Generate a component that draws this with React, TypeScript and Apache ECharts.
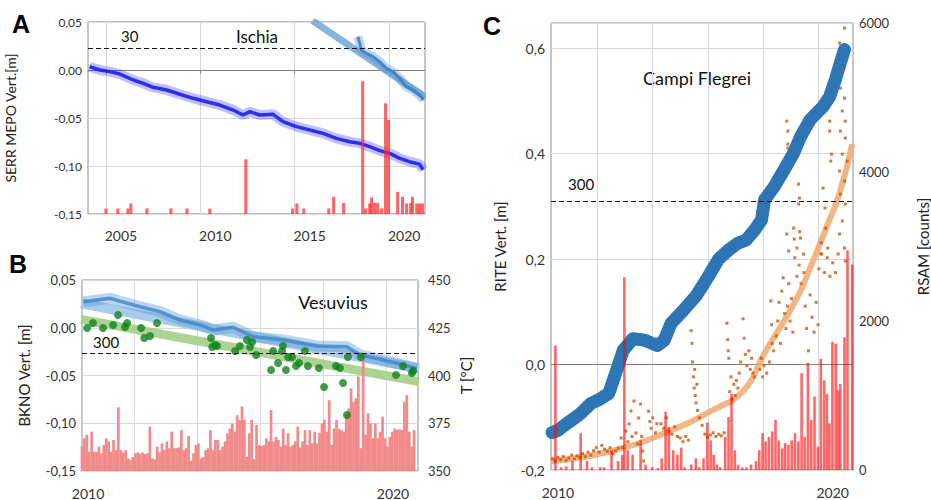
import React, { useEffect, useRef } from 'react';
import * as echarts from 'echarts';

const FONT = 'Lato, "Open Sans", sans-serif';

// ---------- Panel A : Ischia ----------
const aTickYears = [2005, 2010, 2015, 2020];
const aSerr: [number, number][] = [
  [2004.13, 0.0035], [2004.68, 0.0], [2005.21, -0.0017], [2005.74, -0.0042], [2006.45, -0.0104],
  [2006.98, -0.0139], [2007.5, -0.018], [2008.21, -0.0208], [2008.92, -0.0253], [2009.62, -0.0295],
  [2010.33, -0.033], [2011.03, -0.0365], [2011.74, -0.0417], [2012.26, -0.0469], [2012.62, -0.0434],
  [2013.15, -0.0469], [2013.85, -0.0462], [2014.38, -0.0538], [2015.09, -0.059], [2015.8, -0.0625],
  [2016.5, -0.066], [2017.21, -0.0712], [2017.91, -0.0747], [2018.44, -0.0764], [2018.97, -0.0799],
  [2019.5, -0.084], [2020.03, -0.0868], [2020.56, -0.092], [2021.08, -0.0955], [2021.61, -0.098],
  [2021.8, -0.104],
];
const aMepo: [number, number][] = [
  [2018.35, 0.0347], [2018.53, 0.0208], [2018.79, 0.0174], [2019.15, 0.0139], [2019.5, 0.0087],
  [2019.85, 0.0017], [2020.2, -0.0017], [2020.56, -0.0087], [2020.91, -0.0174], [2021.26, -0.0208],
  [2021.61, -0.026], [2021.83, -0.0312],
];
const aMepoTrend: [number, number][] = [[2015.94, 0.0514], [2021.88, -0.0278]];
const aEvents: [number, number][] = [
  [2005.0, 1], [2005.63, 1], [2006.16, 1], [2006.32, 1.9], [2007.17, 1], [2008.44, 1], [2009.29, 1],
  [2010.5, 1], [2012.41, 9.9], [2014.89, 1], [2015.11, 1.9], [2015.48, 1], [2016.8, 1], [2017.06, 3.1],
  [2017.59, 2], [2018.6, 24], [2018.76, 1], [2018.97, 1.9], [2019.07, 3], [2019.23, 2], [2019.39, 2],
  [2019.6, 1], [2019.81, 20], [2019.97, 17], [2020.45, 4], [2020.71, 3.1], [2020.93, 1.9],
  [2021.14, 2], [2021.24, 3.1], [2021.46, 1.9], [2021.61, 1.9], [2021.77, 1.9],
];
const aThreshold = 30;

// ---------- Panel B : Vesuvius ----------
const bLabelYears = [2010, 2020];
const bGridYears = [2011.5, 2013.57, 2015.64, 2017.7, 2019.77];
const bBkno: [number, number][] = [
  [2009.85, 0.0273], [2010.72, 0.0308], [2011.49, 0.0238], [2012.36, 0.0168], [2013.02, 0.0081],
  [2013.45, 0.0047], [2013.67, 0.0029], [2014.11, -0.0024], [2014.76, 0.0005], [2015.42, -0.0094],
  [2016.4, -0.0128], [2017.5, -0.0191], [2018.48, -0.0198], [2018.92, -0.0285], [2019.68, -0.0338],
  [2020.23, -0.038], [2020.78, -0.0425],
];
const bBknoTrend: [number, number][] = [[2009.77, 0.0256], [2020.85, -0.0425]];
const bTempTrend: [number, number][] = [[2009.77, 429.4], [2020.85, 396.8]];
const bTemp: [number, number][] = [
  [2009.97, 424.9], [2010.16, 427.5], [2010.49, 424.9], [2010.82, 426.4], [2010.98, 431.7],
  [2011.21, 425.4], [2011.28, 427.5], [2011.74, 424.9], [2011.84, 419.6], [2012.03, 420.7],
  [2012.26, 427.5], [2014.03, 419.6], [2014.07, 414.9], [2014.16, 416.0], [2014.23, 415.4],
  [2014.82, 412.8], [2014.98, 415.4], [2015.21, 418.6], [2015.31, 414.9], [2015.38, 417.5],
  [2015.51, 410.7], [2016.0, 402.9], [2016.07, 412.8], [2016.23, 406.5], [2016.36, 412.8],
  [2016.39, 415.4], [2016.49, 402.9], [2016.56, 409.7], [2016.69, 409.7], [2016.82, 405.0],
  [2016.92, 406.5], [2017.11, 412.8], [2017.21, 405.0], [2017.57, 403.9], [2017.74, 394.0],
  [2018.13, 405.0], [2018.26, 403.9], [2018.36, 396.1], [2018.49, 379.3], [2018.52, 409.7],
  [2018.95, 409.7], [2020.1, 400.3], [2020.33, 405.0], [2020.62, 401.3], [2020.66, 402.4],
];
const bEventStart = 2009.8;
const bEventStep = 0.0795;
const bEvents = [
  62, 83, 92, 49, 100, 49, 49, 62, 45, 66,
  83, 75, 49, 79, 53, 162, 53, 47, 53, 32,
  28, 35, 45, 47, 43, 47, 43, 45, 113, 32,
  30, 62, 47, 70, 53, 75, 58, 100, 58, 58,
  60, 104, 53, 58, 89, 26, 45, 66, 70, 32,
  35, 53, 58, 104, 53, 79, 79, 53, 62, 75,
  96, 108, 121, 100, 142, 130, 164, 130, 36, 96,
  130, 30, 117, 66, 64, 66, 83, 75, 155, 75,
  87, 79, 62, 108, 66, 96, 62, 66, 75, 113,
  60, 75, 104, 66, 104, 70, 100, 70, 97, 121,
  130, 100, 180, 66, 108, 130, 108, 104, 100, 142,
  159, 210, 176, 185, 240, 58, 300, 92, 147, 121,
  83, 121, 83, 100, 138, 83, 62, 87, 100, 108,
  104, 106, 104, 176, 193, 100, 62, 104,
];
const bThreshold = 300;

// ---------- Panel C : Campi Flegrei ----------
const cLabelYears = [2010, 2020];
const cGridYears = [2011.42, 2013.44, 2015.46, 2017.48, 2019.47];
const cRite: [number, number][] = [
  [2009.79, -0.129], [2010.0, -0.125], [2010.32, -0.112], [2010.78, -0.095], [2011.2, -0.074],
  [2011.55, -0.065], [2011.85, -0.055], [2012.1, -0.017], [2012.38, 0.027], [2012.73, 0.049],
  [2013.16, 0.046], [2013.62, 0.036], [2013.87, 0.046], [2014.12, 0.078], [2014.57, 0.103],
  [2015.04, 0.131], [2015.5, 0.169], [2015.85, 0.2], [2016.21, 0.217], [2016.55, 0.23],
  [2016.85, 0.236], [2017.16, 0.255], [2017.41, 0.274], [2017.52, 0.312], [2017.87, 0.337],
  [2018.23, 0.369], [2018.58, 0.401], [2018.83, 0.432], [2019.18, 0.464], [2019.65, 0.489],
  [2019.89, 0.508], [2020.1, 0.54], [2020.28, 0.572], [2020.43, 0.597],
];
const cRsamFit: [number, number][] = [
  [2009.75, 121], [2011.95, 255], [2014.33, 564], [2015.57, 792], [2016.74, 1060], [2017.52, 1570],
  [2018.23, 2000], [2018.79, 2375], [2019.18, 2711], [2019.75, 3234], [2020.25, 3717], [2020.71, 4375],
];
const cRsam: [number, number][] = [
  [2009.8, 150], [2009.9, 120], [2010.0, 170], [2010.1, 140], [2010.2, 180], [2010.3, 130], [2010.4, 160],
  [2010.5, 200], [2010.6, 150], [2010.7, 190], [2010.8, 170], [2010.9, 220], [2011.0, 180], [2011.1, 240],
  [2011.2, 200], [2011.3, 260], [2011.4, 300], [2011.5, 240], [2011.6, 330], [2011.7, 280], [2011.8, 250],
  [2011.9, 300], [2012.0, 220], [2012.1, 260],
  [2012.2, 295], [2012.3, 430], [2012.35, 300], [2012.48, 523], [2012.55, 380], [2012.59, 617],
  [2012.66, 792], [2012.7, 450], [2012.77, 926], [2012.84, 497], [2012.9, 350], [2012.94, 698],
  [2013.01, 886], [2013.05, 450], [2013.09, 255], [2013.12, 121],
  [2013.3, 790], [2013.35, 650], [2013.4, 560], [2013.45, 700], [2013.55, 500], [2013.6, 620],
  [2013.75, 620], [2013.85, 560], [2013.95, 700], [2014.05, 520], [2014.15, 480], [2014.25, 580],
  [2014.35, 450], [2014.45, 430], [2014.55, 380], [2014.65, 450], [2014.75, 400],
  [2014.85, 1870], [2014.88, 1700], [2014.9, 1450], [2014.93, 1250], [2014.96, 1100], [2014.98, 1350],
  [2015.0, 1000], [2015.03, 900], [2015.06, 1150], [2015.08, 800],
  [2015.15, 700], [2015.25, 600], [2015.35, 480], [2015.45, 440],
  [2015.55, 470], [2015.65, 500], [2015.75, 450], [2015.85, 480], [2015.95, 460], [2016.05, 500],
  [2016.15, 1970], [2016.18, 1750], [2016.2, 1600], [2016.22, 1500],
  [2016.25, 1050], [2016.3, 1250], [2016.35, 950], [2016.4, 1150], [2016.45, 1000], [2016.5, 1200],
  [2016.55, 1100], [2016.6, 1300], [2016.65, 1450], [2016.74, 2030], [2016.78, 1770], [2016.82, 1550],
  [2016.88, 1400], [2016.95, 1600], [2017.0, 1350], [2017.05, 1500], [2017.1, 1300], [2017.15, 1250],
  [2017.35, 1350], [2017.4, 1500], [2017.45, 1250], [2017.5, 1400], [2017.6, 1300], [2017.7, 1450],
  [2017.75, 2270], [2017.78, 1950], [2017.8, 1700], [2017.85, 1600],
  [2017.95, 1800], [2018.0, 2000], [2018.05, 2250], [2018.1, 1700], [2018.15, 2400], [2018.2, 2580],
  [2018.25, 2100], [2018.3, 1900], [2018.35, 2200], [2018.4, 2500], [2018.45, 2000], [2018.5, 2300],
  [2018.55, 1850], [2018.62, 2850], [2018.7, 2600], [2018.78, 2750], [2018.85, 2500], [2018.95, 2650],
  [2019.0, 2200], [2019.05, 1900], [2019.1, 1420], [2019.12, 1600], [2019.18, 2350], [2019.25, 2050],
  [2019.32, 1850], [2019.4, 2250], [2019.47, 1950], [2019.5, 2700], [2019.6, 2900], [2019.7, 2650],
  [2019.8, 2850], [2019.9, 2600], [2020.0, 2780], [2020.1, 2650], [2020.2, 2900],
  [2018.33, 4683], [2018.37, 4549], [2018.37, 4375], [2018.37, 4321], [2018.33, 3167], [2018.4, 2940],
  [2018.58, 3247], [2018.76, 3838], [2018.79, 3650], [2018.76, 3570], [2018.83, 3113], [2018.94, 2898],
  [2018.6, 3100], [2018.7, 2980], [2018.8, 3200],
  [2019.57, 2900], [2019.58, 3050], [2019.65, 3784], [2019.72, 3516], [2019.75, 3247], [2019.82, 2979],
  [2019.89, 4683], [2019.89, 4549], [2019.93, 4147], [2019.96, 4240],
  [2020.25, 5730], [2020.43, 5932], [2020.35, 5355], [2020.28, 5126], [2020.43, 4992], [2020.35, 4818],
  [2020.46, 4683], [2020.28, 4549], [2020.46, 4455], [2020.35, 4240], [2020.53, 4147], [2020.25, 4013],
  [2020.43, 3878], [2020.28, 3704], [2020.46, 3570], [2020.35, 3342], [2020.25, 3167], [2020.43, 2979],
  [2020.46, 2805],
];
const cEvents: [number, number][] = [
  [2009.91, 139], [2010.12, 3], [2010.3, 4], [2010.53, 10], [2010.83, 41], [2011.06, 10], [2011.24, 3],
  [2011.54, 3], [2011.68, 3], [2011.95, 22], [2012.19, 10], [2012.34, 17], [2012.42, 215], [2012.54, 22],
  [2012.72, 17], [2013.01, 33], [2013.19, 6], [2013.43, 3], [2013.64, 2], [2013.78, 13], [2013.92, 65],
  [2014.04, 48], [2014.2, 22], [2014.35, 17], [2014.49, 25], [2014.61, 3], [2014.85, 6], [2015.02, 13],
  [2015.14, 3], [2015.3, 13], [2015.44, 53], [2015.56, 33], [2015.67, 17], [2015.79, 6], [2015.91, 3],
  [2016.09, 37], [2016.21, 59], [2016.32, 85], [2016.44, 22], [2016.56, 6], [2016.71, 3], [2016.86, 3],
  [2017.03, 6], [2017.21, 10], [2017.33, 22], [2017.45, 41], [2017.56, 32], [2017.68, 37], [2017.8, 43],
  [2017.92, 56], [2018.04, 33], [2018.16, 24], [2018.27, 30], [2018.39, 28], [2018.51, 33], [2018.63, 41],
  [2018.75, 32], [2018.87, 108], [2018.98, 37], [2019.1, 117], [2019.22, 56], [2019.34, 82], [2019.46, 26],
  [2019.57, 124], [2019.69, 100], [2019.79, 85], [2019.88, 52], [2019.99, 143], [2020.11, 141],
  [2020.2, 89], [2020.28, 96], [2020.43, 148], [2020.54, 245], [2020.71, 229],
];
const cThreshold = 300;

const fmt2 = (v: number) => {
  const r = Math.round(v * 100) / 100;
  return (r === 0 ? 0 : r).toFixed(2).replace('.', ',');
};
const fmt1 = (v: number) => {
  if (Math.abs(v * 5 - Math.round(v * 5)) > 1e-6) return '';
  const r = Math.round(v * 10) / 10;
  return (r === 0 ? 0 : r).toFixed(1).replace('.', ',');
};
const fmtInt = (v: number) => String(Math.round(v));

const gridLine = { show: true, lineStyle: { color: '#d9d9d9', width: 1 } };
const tickLabel = (size: number, margin: number) => ({ fontSize: size, margin, color: '#333', fontFamily: FONT });
const axisName = (size: number) => ({ fontSize: size, color: '#222', fontFamily: FONT });

const threshold = (value: number, text: string, dist: [number, number]) => ({
  silent: true,
  symbol: ['none', 'none'],
  z: 6,
  lineStyle: { color: '#111', type: [5, 3], width: 1.2 },
  label: {
    show: true, position: 'insideStartTop', formatter: text, fontSize: 15, color: '#111',
    fontFamily: FONT, distance: dist,
  },
  data: [{ yAxis: value }],
});
const zeroLine = {
  silent: true, symbol: ['none', 'none'], z: 1,
  lineStyle: { color: '#7f7f7f', type: 'solid', width: 1 },
  label: { show: false },
  data: [{ yAxis: 0 }],
};

export default function App() {
  const ref = useRef<HTMLDivElement>(null);
  useEffect(() => {
    if (!ref.current) return;
    const chart = echarts.init(ref.current, undefined, { renderer: 'svg' });
    const frame = { show: true, borderColor: '#8c8c8c', borderWidth: 1, backgroundColor: 'transparent' };
    const option: any = {
      animation: false,
      grid: [
        { left: 88, top: 22, width: 337, height: 192, ...frame },
        { left: 82, top: 280, width: 336, height: 191, ...frame },
        { left: 551, top: 23, width: 310, height: 447, ...frame },
      ],
      xAxis: [
        {
          gridIndex: 0, type: 'value', min: 2004.05, max: 2021.9,
          axisLine: { show: false },
          axisTick: { show: true, customValues: aTickYears, length: 4, lineStyle: { color: '#8c8c8c' } },
          axisLabel: { ...tickLabel(14, 14), customValues: aTickYears, formatter: fmtInt, padding: [0, 0, 0, 30] },
          splitLine: gridLine,
        },
        {
          gridIndex: 1, type: 'value', min: 2009.8, max: 2020.82,
          axisLine: { show: false },
          axisTick: { show: false, customValues: bGridYears },
          axisLabel: { ...tickLabel(14, 15), customValues: bLabelYears, formatter: fmtInt },
          splitLine: gridLine,
        },
        {
          gridIndex: 2, type: 'value', min: 2009.75, max: 2020.74,
          axisLine: { show: false },
          axisTick: { show: false, customValues: cGridYears },
          axisLabel: { ...tickLabel(14, 15), customValues: cLabelYears, formatter: fmtInt },
          splitLine: gridLine,
        },
      ],
      yAxis: [
        {
          gridIndex: 0, type: 'value', min: -0.15, max: 0.05, interval: 0.05, position: 'left',
          axisLine: { show: false }, axisTick: { show: false },
          axisLabel: { ...tickLabel(12, 6), formatter: fmt2 },
          splitLine: gridLine,
          name: 'SERR MEPO Vert.[m]', nameLocation: 'middle', nameGap: 71, nameTextStyle: axisName(14),
        },
        { gridIndex: 0, type: 'value', min: 0, max: 34.7, position: 'right', show: false, splitLine: { show: false } },
        {
          gridIndex: 1, type: 'value', min: -0.15, max: 0.05, interval: 0.05, position: 'left',
          axisLine: { show: false }, axisTick: { show: false },
          axisLabel: { ...tickLabel(13, 6), formatter: fmt2 },
          splitLine: gridLine,
          name: 'BKNO Vert. [m]', nameLocation: 'middle', nameGap: 51, nameTextStyle: axisName(15),
        },
        {
          gridIndex: 1, type: 'value', min: 350, max: 450, interval: 25, position: 'right',
          axisLine: { show: false }, axisTick: { show: false },
          axisLabel: { ...tickLabel(13, 10), formatter: fmtInt },
          splitLine: { show: false },
          name: 'T [°C]', nameLocation: 'middle', nameGap: 40, nameRotate: 90, nameTextStyle: axisName(15),
        },
        { gridIndex: 1, type: 'value', min: 0, max: 485.6, position: 'right', show: false, splitLine: { show: false } },
        {
          gridIndex: 2, type: 'value', min: -0.2, max: 0.6475, interval: 0.2, position: 'left',
          axisLine: { show: false }, axisTick: { show: false },
          axisLabel: { ...tickLabel(14, 6), formatter: fmt1 },
          splitLine: gridLine,
          name: 'RITE Vert. [m]', nameLocation: 'middle', nameGap: 44, nameTextStyle: axisName(15),
        },
        {
          gridIndex: 2, type: 'value', min: 0, max: 6000, interval: 2000, position: 'right',
          axisLine: { show: false }, axisTick: { show: false },
          axisLabel: { ...tickLabel(13, 6), formatter: fmtInt },
          splitLine: { show: false },
          name: 'RSAM [counts]', nameLocation: 'middle', nameGap: 62, nameRotate: 90, nameTextStyle: axisName(15),
        },
        { gridIndex: 2, type: 'value', min: 0, max: 498.5, position: 'right', show: false, splitLine: { show: false } },
      ],
      series: [
        // ----- A -----
        {
          type: 'line', xAxisIndex: 0, yAxisIndex: 0, data: aMepoTrend, symbol: 'none', z: 1,
          lineStyle: { width: 7, color: 'rgba(125,172,214,0.9)' }, markLine: zeroLine,
        },
        {
          type: 'line', xAxisIndex: 0, yAxisIndex: 0, data: aSerr, symbol: 'none', z: 2,
          lineStyle: { width: 10, color: 'rgba(30,30,255,0.28)' },
        },
        {
          type: 'line', xAxisIndex: 0, yAxisIndex: 0, data: aSerr, symbol: 'none', z: 2,
          lineStyle: { width: 3.5, color: 'rgba(20,20,240,0.85)' },
        },
        {
          type: 'line', xAxisIndex: 0, yAxisIndex: 0, data: aMepo, symbol: 'none', z: 2,
          lineStyle: { width: 9, color: 'rgba(70,140,205,0.35)' },
        },
        {
          type: 'line', xAxisIndex: 0, yAxisIndex: 0, data: aMepo, symbol: 'none', z: 2,
          lineStyle: { width: 3, color: 'rgba(55,125,195,0.85)' },
        },
        {
          type: 'bar', xAxisIndex: 0, yAxisIndex: 1, data: aEvents, barWidth: 3, z: 4,
          itemStyle: { color: 'rgba(255,40,40,0.72)' },
          markLine: threshold(aThreshold, '30', [33, 5]),
        },
        // ----- B -----
        {
          type: 'line', xAxisIndex: 1, yAxisIndex: 2, data: bBknoTrend, symbol: 'none', z: 1,
          lineStyle: { width: 10, color: 'rgba(160,198,232,0.9)' },
        },
        {
          type: 'line', xAxisIndex: 1, yAxisIndex: 3, data: bTempTrend, symbol: 'none', z: 1,
          lineStyle: { width: 9, color: 'rgba(169,209,142,0.95)' },
        },
        {
          type: 'bar', xAxisIndex: 1, yAxisIndex: 4, barWidth: 2.7, z: 2,
          data: bEvents.map((v, i) => [bEventStart + i * bEventStep, v]),
          itemStyle: { color: '#f28a8a' },
          markLine: threshold(bThreshold, '300', [11, 4]),
        },
        {
          type: 'line', xAxisIndex: 1, yAxisIndex: 2, data: bBkno, symbol: 'none', z: 3,
          lineStyle: { width: 11, color: 'rgba(91,155,213,0.42)' },
        },
        {
          type: 'line', xAxisIndex: 1, yAxisIndex: 2, data: bBkno, symbol: 'none', z: 3,
          lineStyle: { width: 3.5, color: 'rgba(68,136,204,0.85)' },
        },
        {
          type: 'scatter', xAxisIndex: 1, yAxisIndex: 3, data: bTemp, symbolSize: 8, z: 4,
          itemStyle: { color: '#12821a' },
        },
        // ----- C -----
        {
          type: 'line', xAxisIndex: 2, yAxisIndex: 6, data: cRsamFit, symbol: 'none', smooth: true, z: 1,
          lineStyle: { width: 6, color: 'rgba(240,168,112,0.85)' },
        },
        {
          type: 'line', xAxisIndex: 2, yAxisIndex: 5, data: cRite, symbol: 'none', z: 2,
          lineStyle: { width: 13, color: '#2e75b6', cap: 'round', join: 'round' },
          markLine: zeroLine,
        },
        {
          type: 'scatter', xAxisIndex: 2, yAxisIndex: 6, data: cRsam, symbol: 'rect', symbolSize: 3, z: 3,
          itemStyle: { color: '#c55a11' },
        },
        {
          type: 'bar', xAxisIndex: 2, yAxisIndex: 7, data: cEvents, barWidth: 2.6, z: 4,
          itemStyle: { color: 'rgba(255,0,0,0.6)' },
          markLine: threshold(cThreshold, '300', [17, 9]),
        },
      ],
      graphic: [
        { type: 'text', x: 21, y: 24, style: { text: 'A', font: 'bold 25px "Liberation Sans", Arial, sans-serif', fill: '#000', align: 'center', verticalAlign: 'middle' } },
        { type: 'text', x: 18, y: 264, style: { text: 'B', font: 'bold 25px "Liberation Sans", Arial, sans-serif', fill: '#000', align: 'center', verticalAlign: 'middle' } },
        { type: 'text', x: 492, y: 26, style: { text: 'C', font: 'bold 25px "Liberation Sans", Arial, sans-serif', fill: '#000', align: 'center', verticalAlign: 'middle' } },
        { type: 'text', x: 257, y: 36, style: { text: 'Ischia', font: '17px ' + FONT, fill: '#111', align: 'center', verticalAlign: 'middle' } },
        { type: 'text', x: 333, y: 302, style: { text: 'Vesuvius', font: '18px ' + FONT, fill: '#111', align: 'center', verticalAlign: 'middle' } },
        { type: 'text', x: 697, y: 78, style: { text: 'Campi Flegrei', font: '18px ' + FONT, fill: '#111', align: 'center', verticalAlign: 'middle' } },
      ],
    };
    chart.setOption(option);
    return () => chart.dispose();
  }, []);
  return <div ref={ref} style={{ position: 'fixed', left: 0, top: 0, width: 931, height: 500, background: '#fff' }} />;
}
